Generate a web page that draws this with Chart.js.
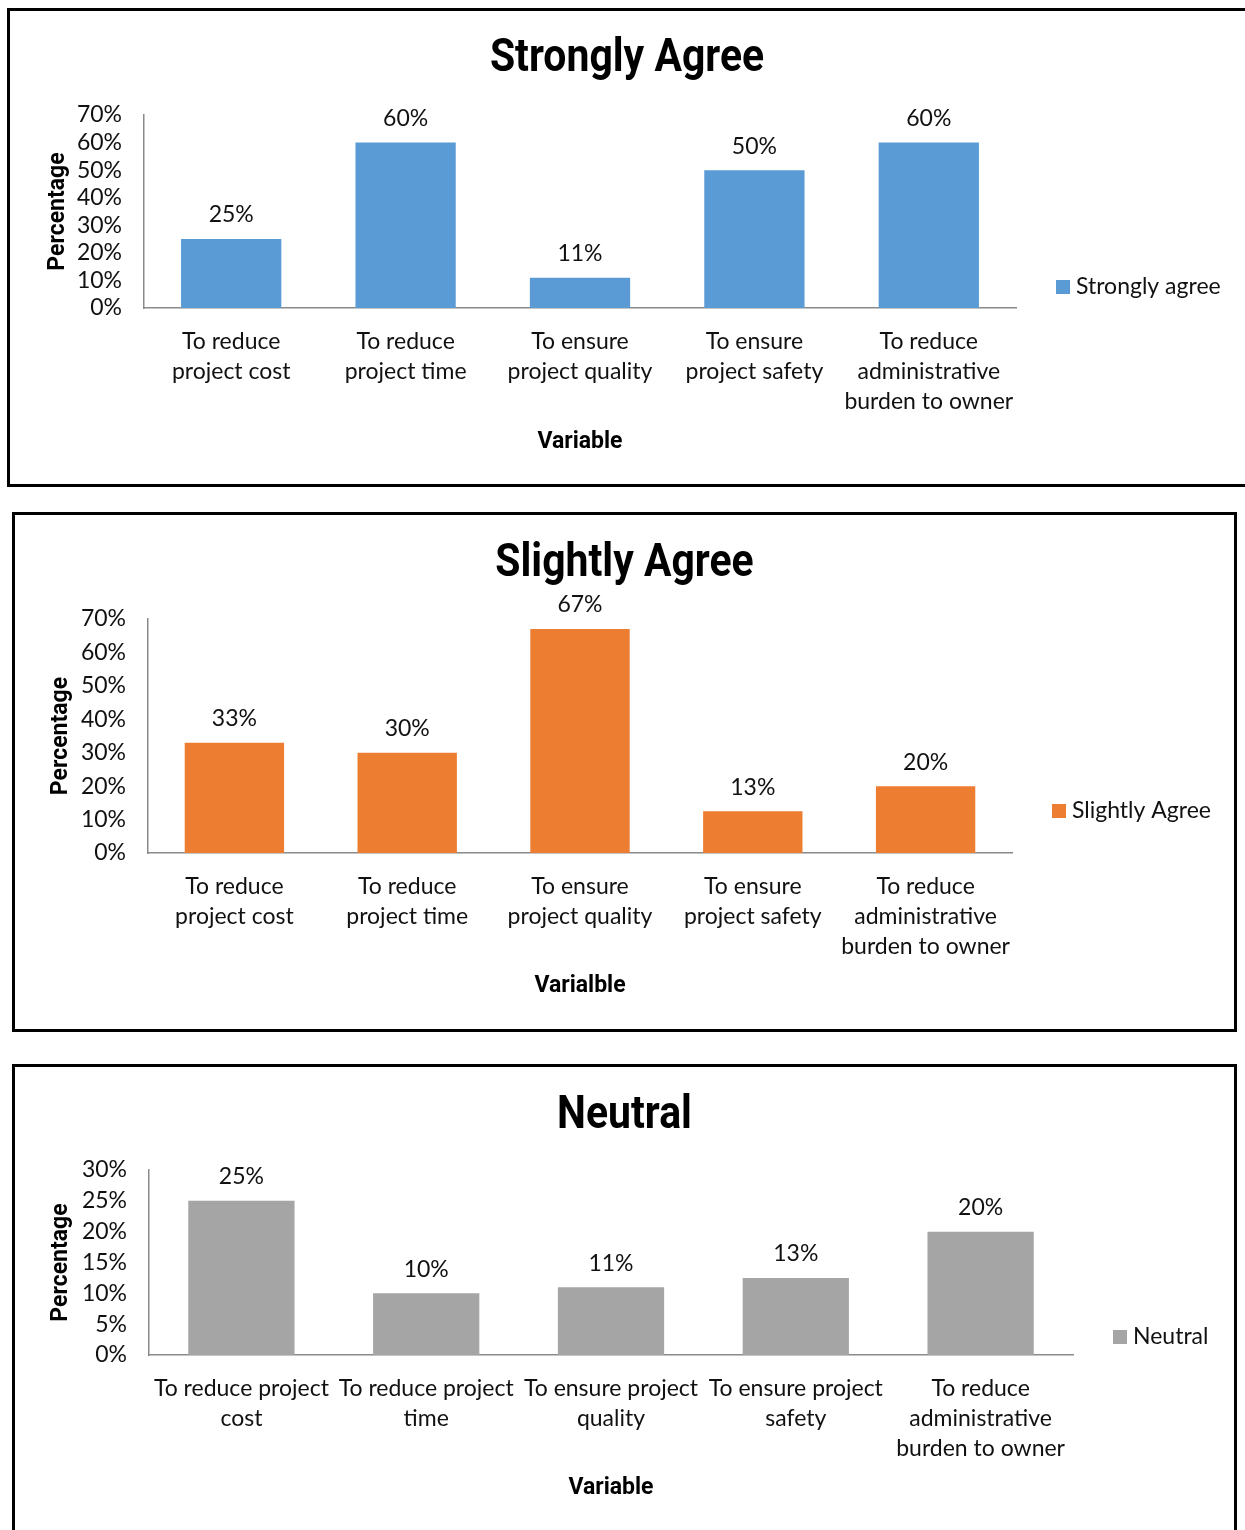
<!DOCTYPE html>
<html><head><meta charset="utf-8">
<script src="https://cdn.jsdelivr.net/npm/chart.js@4.4.1/dist/chart.umd.min.js"></script>
<style>
html,body{margin:0;padding:0;background:#fff;width:1245px;height:1530px;overflow:hidden;position:relative}
.box{position:absolute;border:3px solid #000;box-sizing:border-box;background:#fff}
.box canvas{display:block}
</style></head><body>
<div class="box" style="left:7px;top:8px;width:1250px;height:479px"><canvas id="c1" width="1244" height="473"></canvas></div>
<div class="box" style="left:12px;top:512px;width:1225px;height:520px"><canvas id="c2" width="1219" height="514"></canvas></div>
<div class="box" style="left:12px;top:1064px;width:1225px;height:480px"><canvas id="c3" width="1219" height="474"></canvas></div>
<script>
// ---- data ----
const categoriesAgree = [
  ["To reduce", "project cost"],
  ["To reduce", "project time"],
  ["To ensure", "project quality"],
  ["To ensure", "project safety"],
  ["To reduce", "administrative", "burden to owner"]
];
const categoriesNeutral = [
  ["To reduce project", "cost"],
  ["To reduce project", "time"],
  ["To ensure project", "quality"],
  ["To ensure project", "safety"],
  ["To reduce", "administrative", "burden to owner"]
];
const stronglyAgree = [25, 60, 11, 50, 60];
const slightlyAgree = [33, 30, 67, 12.5, 20];
const neutral = [25, 10, 11, 12.5, 20];
const yTicksAgree = {max: 70, step: 10};
const yTicksNeutral = {max: 30, step: 5};

// ---- styles ----
const LABEL_FONT = "Lato, 'Open Sans', sans-serif";
const TITLE_FONT = "Roboto, 'Liberation Sans', sans-serif";
const TEXT = '#111';
const AXIS = '#8a8a8a';

const centerTitle = {
  id: 'centerTitle',
  afterDraw(chart, args, opts) {
    const ctx = chart.ctx;
    ctx.save();
    ctx.font = opts.font;
    ctx.fillStyle = '#000';
    ctx.textAlign = 'center';
    ctx.textBaseline = 'alphabetic';
    ctx.translate(chart.width / 2 + opts.dx, opts.baseline);
    ctx.scale(opts.squeeze, 1);
    ctx.fillText(opts.text, 0, 0);
    ctx.restore();
  }
};
const valueLabels = {
  id: 'valueLabels',
  afterDatasetsDraw(chart, args, opts) {
    const ctx = chart.ctx;
    chart.data.datasets.forEach((ds, i) => {
      chart.getDatasetMeta(i).data.forEach((bar, j) => {
        ctx.save();
        ctx.font = opts.font;
        ctx.fillStyle = TEXT;
        ctx.textAlign = 'center';
        ctx.textBaseline = 'middle';
        ctx.fillText(Math.round(ds.data[j]) + '%', bar.x, bar.y - opts.offset);
        ctx.restore();
      });
    });
  }
};
const sideLegend = {
  id: 'sideLegend',
  afterDraw(chart, args, opts) {
    const ctx = chart.ctx;
    const ds = chart.data.datasets[0];
    const x = chart.chartArea.right + opts.gap;
    const y = opts.y;
    ctx.save();
    ctx.fillStyle = ds.backgroundColor;
    ctx.fillRect(x, y - 7, 14, 14);
    ctx.font = opts.font;
    ctx.fillStyle = TEXT;
    ctx.textAlign = 'left';
    ctx.textBaseline = 'middle';
    ctx.fillText(ds.label, x + 20, y);
    ctx.restore();
  }
};

function makeChart(id, c) {
  return new Chart(document.getElementById(id), {
    type: 'bar',
    data: {
      labels: c.labels,
      datasets: [{
        label: c.series, data: c.data, backgroundColor: c.color,
        barPercentage: 0.575, categoryPercentage: 1
      }]
    },
    options: {
      responsive: false, animation: false, devicePixelRatio: 1,
      layout: {padding: {left: 0, top: c.padTop, bottom: 0, right: c.padRight}},
      plugins: {
        legend: {display: false},
        tooltip: {enabled: false},
        title: {display: false},
        centerTitle: {text: c.title, font: "bold 46px " + TITLE_FONT, baseline: c.titleBase, dx: c.titleDx, squeeze: 0.89},
        valueLabels: {font: "23px " + LABEL_FONT, offset: 24},
        sideLegend: {font: "23px " + LABEL_FONT, gap: 40, y: c.legendY}
      },
      scales: {
        x: {
          grid: {display: false, drawTicks: false},
          border: {display: true, color: AXIS, width: 1.5},
          ticks: {font: {family: LABEL_FONT, size: 23, lineHeight: 1.32}, color: TEXT, padding: 18, maxRotation: 0, autoSkip: false},
          title: {display: true, text: c.xTitle, color: '#000', font: {family: TITLE_FONT, size: 23, weight: 'bold', lineHeight: 1.2}, padding: {top: 0, bottom: c.xTitleB}},
          afterFit(s) { s.height = c.xH; }
        },
        y: {
          min: 0, max: c.yt.max,
          grid: {display: false, drawTicks: false},
          border: {display: true, color: AXIS, width: 1.5},
          ticks: {stepSize: c.yt.step, autoSkip: false, callback: v => v + '%', font: {family: LABEL_FONT, size: 23, lineHeight: 1.0}, color: TEXT, padding: 22},
          title: {display: true, text: 'Percentage', color: '#000', font: {family: TITLE_FONT, size: 23, weight: 'bold', lineHeight: 1.2}, padding: {top: c.yTitleT, bottom: 0}},
          afterFit(s) { s.width = c.yW; }
        }
      }
    },
    plugins: [centerTitle, valueLabels, sideLegend]
  });
}

makeChart('c1', {
  labels: categoriesAgree, series: 'Strongly agree', data: stronglyAgree, color: '#5B9BD5',
  title: 'Strongly Agree', xTitle: 'Variable', yt: yTicksAgree, titleBase: 60, titleDx: -5, padTop: 104,
  padRight: 238, xH: 176, xTitleB: 28, yW: 134, yTitleT: 34, legendY: 276
});
makeChart('c2', {
  labels: categoriesAgree, series: 'Slightly Agree', data: slightlyAgree, color: '#ED7D31',
  title: 'Slightly Agree', xTitle: 'Varialble', yt: yTicksAgree, titleBase: 61, titleDx: 0, padTop: 104,
  padRight: 222, xH: 176, xTitleB: 29, yW: 133, yTitleT: 32, legendY: 296
});
makeChart('c3', {
  labels: categoriesNeutral, series: 'Neutral', data: neutral, color: '#A5A5A5',
  title: 'Neutral', xTitle: 'Variable', yt: yTicksNeutral, titleBase: 61, titleDx: 0, padTop: 103,
  padRight: 161, xH: 186, xTitleB: 39, yW: 134, yTitleT: 32, legendY: 270
});
</script>
</body></html>
